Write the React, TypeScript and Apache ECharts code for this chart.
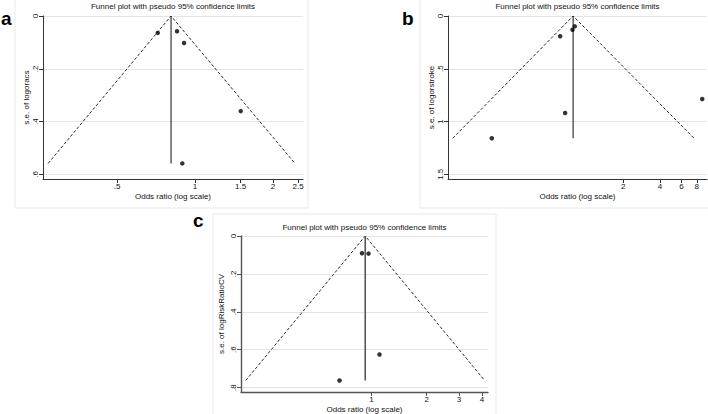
import React, { useEffect, useRef } from "react";
import * as echarts from "echarts";

const FONT = "'Liberation Sans', Arial, Helvetica, sans-serif";
const TITLE = "Funnel plot with pseudo 95% confidence limits";
const X_NAME = "Odds ratio (log scale)";

// ---- Panel a ----
const aStudyOR = [0.718, 0.852, 0.907, 1.501, 0.893];
const aStudySE = [0.064, 0.058, 0.102, 0.36, 0.558];
const aPooledOR = 0.808;
const aFunnelOR = [0.271, 0.808, 2.43];
const aFunnelSE = [0.558, 0, 0.558];
const aXTickValues = [0.5, 1, 1.5, 2, 2.5];
const aXTickLabels = [".5", "1", "1.5", "2", "2.5"];
const aYTickValues = [0, 0.2, 0.4, 0.6];
const aYTickLabels = ["0", ".2", ".4", ".6"];
const aYName = "s.e. of logoracs";
const aXRange = [0.259, 2.61];
const aYRange = [0, 0.617];

// ---- Panel b ----
const bStudyOR = [0.609, 0.769, 0.803, 0.669, 0.168, 8.87];
const bStudySE = [0.192, 0.13, 0.098, 0.919, 1.159, 0.787];
const bPooledOR = 0.778;
const bFunnelOR = [0.0804, 0.778, 7.59];
const bFunnelSE = [1.159, 0, 1.159];
const bXTickValues = [2, 4, 6, 8];
const bXTickLabels = ["2", "4", "6", "8"];
const bYTickValues = [0, 0.5, 1, 1.5];
const bYTickLabels = ["0", ".5", "1", "1.5"];
const bYName = "s.e. of logorstroke";
const bXRange = [0.0736, 9.7];
const bYRange = [0, 1.545];

// ---- Panel c ----
const cStudyOR = [0.887, 0.963, 1.105, 0.669];
const cStudySE = [0.091, 0.093, 0.625, 0.762];
const cPooledOR = 0.924;
const cFunnelOR = [0.206, 0.924, 4.14];
const cFunnelSE = [0.762, 0, 0.762];
const cXTickValues = [1, 2, 3, 4];
const cXTickLabels = ["1", "2", "3", "4"];
const cYTickValues = [0, 0.2, 0.4, 0.6, 0.8];
const cYTickLabels = ["0", ".2", ".4", ".6", ".8"];
const cYName = "s.e. of logRiskRatioCV";
const cXRange = [0.194, 4.32];
const cYRange = [0, 0.823];

const panels = [
  {
    letter: "a", studyOR: aStudyOR, studySE: aStudySE, pooled: aPooledOR,
    funnelOR: aFunnelOR, funnelSE: aFunnelSE, xtv: aXTickValues, xtl: aXTickLabels,
    ytv: aYTickValues, ytl: aYTickLabels, yName: aYName, xRange: aXRange, yRange: aYRange,
  },
  {
    letter: "b", studyOR: bStudyOR, studySE: bStudySE, pooled: bPooledOR,
    funnelOR: bFunnelOR, funnelSE: bFunnelSE, xtv: bXTickValues, xtl: bXTickLabels,
    ytv: bYTickValues, ytl: bYTickLabels, yName: bYName, xRange: bXRange, yRange: bYRange,
  },
  {
    letter: "c", studyOR: cStudyOR, studySE: cStudySE, pooled: cPooledOR,
    funnelOR: cFunnelOR, funnelSE: cFunnelSE, xtv: cXTickValues, xtl: cXTickLabels,
    ytv: cYTickValues, ytl: cYTickLabels, yName: cYName, xRange: cXRange, yRange: cYRange,
  },
];

// layout (pixels)
const layouts = [
  { left: 43, top: 16, width: 260, height: 163, interval: 0.2, card: [15, -2, 293, 210], letterX: 1, letterY: 28, titleY: 6, axisColor: "#333", axisWidth: 1, yNameGap: 12 },
  { left: 448, top: 16, width: 259, height: 163, interval: 0.5, card: [420, -2, 300, 210], letterX: 402, letterY: 28, titleY: 6, axisColor: "#333", axisWidth: 1, yNameGap: 12 },
  { left: 241, top: 236, width: 247, height: 157, interval: 0.2, card: [213, 214, 283, 210], letterX: 193, letterY: 230, titleY: 227, axisColor: "#555", axisWidth: 1.4, yNameGap: 16 },
];

function pickLabel(v: number, vals: number[], labels: string[], useLog: boolean) {
  let best = 0;
  let bd = Infinity;
  vals.forEach((t, i) => {
    const tv = useLog ? Math.log(t) : t;
    const d = Math.abs(tv - v);
    if (d < bd) { bd = d; best = i; }
  });
  return labels[best];
}

export default function App() {
  const ref = useRef<HTMLDivElement>(null);
  useEffect(() => {
    const chart = echarts.init(ref.current!, null, { renderer: "svg" });
    const grids: any[] = [];
    const xAxes: any[] = [];
    const yAxes: any[] = [];
    const series: any[] = [];
    const graphics: any[] = [];

    panels.forEach((p, i) => {
      const L = layouts[i];
      grids.push({ left: L.left, top: L.top, width: L.width, height: L.height, containLabel: false });
      const xLog = p.xtv.map((v) => Math.log(v));
      xAxes.push({
        gridIndex: i,
        type: "value",
        min: Math.log(p.xRange[0]),
        max: Math.log(p.xRange[1]),
        axisLine: { show: true, onZero: false, lineStyle: { color: L.axisColor, width: L.axisWidth } },
        axisTick: { show: true, customValues: xLog, length: 4, lineStyle: { color: L.axisColor, width: 1 } },
        axisLabel: {
          show: true, customValues: xLog, margin: 3, fontSize: 8, color: "#111", fontFamily: FONT,
          formatter: (v: number) => pickLabel(v, p.xtv, p.xtl, true),
        },
        splitLine: { show: false },
        name: X_NAME,
        nameLocation: "middle",
        nameGap: 13,
        nameTextStyle: { fontSize: 8, color: "#111", fontFamily: FONT },
      });
      yAxes.push({
        gridIndex: i,
        type: "value",
        inverse: true,
        min: p.yRange[0],
        max: p.yRange[1],
        interval: L.interval,
        axisLine: { show: true, onZero: false, lineStyle: { color: L.axisColor, width: L.axisWidth } },
        axisTick: { show: true, customValues: p.ytv, length: 4, lineStyle: { color: L.axisColor, width: 1 } },
        axisLabel: {
          show: true, customValues: p.ytv, rotate: 90, margin: 4, fontSize: 8, color: "#111", fontFamily: FONT,
          formatter: (v: number) => pickLabel(v, p.ytv, p.ytl, false),
        },
        splitLine: { show: true, lineStyle: { color: "#e4e4e4", width: 1 } },
        name: p.yName,
        nameLocation: "middle",
        nameGap: L.yNameGap,
        nameRotate: 90,
        nameTextStyle: { fontSize: 8, color: "#111", fontFamily: FONT },
      });

      const seMax = p.funnelSE[0];
      series.push({
        type: "line",
        xAxisIndex: i,
        yAxisIndex: i,
        data: p.funnelOR.map((o, k) => [Math.log(o), p.funnelSE[k]]),
        symbol: "none",
        lineStyle: { color: "#111", width: 0.9, type: [3, 2] },
        silent: true,
        z: 2,
      });
      series.push({
        type: "line",
        xAxisIndex: i,
        yAxisIndex: i,
        data: [[Math.log(p.pooled), 0], [Math.log(p.pooled), seMax]],
        symbol: "none",
        lineStyle: { color: i === 2 ? "#555" : "#222", width: i === 2 ? 1.6 : 1.1 },
        silent: true,
        z: 2,
      });
      series.push({
        type: "scatter",
        xAxisIndex: i,
        yAxisIndex: i,
        data: p.studyOR.map((o, k) => [Math.log(o), p.studySE[k]]),
        symbol: "circle",
        symbolSize: 4.5,
        itemStyle: { color: "#000" },
        silent: true,
        z: 3,
      });

      graphics.push({
        type: "rect",
        shape: { x: L.card[0], y: L.card[1], width: L.card[2], height: L.card[3] },
        style: { fill: "none", stroke: "#e8e8e8", lineWidth: 1 },
        z: -10,
        silent: true,
      });
      graphics.push({
        type: "text",
        x: L.letterX,
        y: L.letterY,
        style: { text: p.letter, fontSize: 19, fontWeight: "bold", fontFamily: FONT, fill: "#000", align: "left", verticalAlign: "bottom" },
        silent: true,
      });
      graphics.push({
        type: "text",
        x: L.left + L.width / 2,
        y: L.titleY,
        style: { text: TITLE, fontSize: 8, fontFamily: FONT, fill: "#111", align: "center", verticalAlign: "middle" },
        silent: true,
      });
    });

    chart.setOption({
      animation: false,
      backgroundColor: "#fff",
      grid: grids,
      xAxis: xAxes,
      yAxis: yAxes,
      series,
      graphic: graphics,
    });
    return () => chart.dispose();
  }, []);
  return (
    <div
      ref={ref}
      style={{ position: "absolute", left: 0, top: 0, width: 708, height: 414, background: "#fff" }}
    />
  );
}
